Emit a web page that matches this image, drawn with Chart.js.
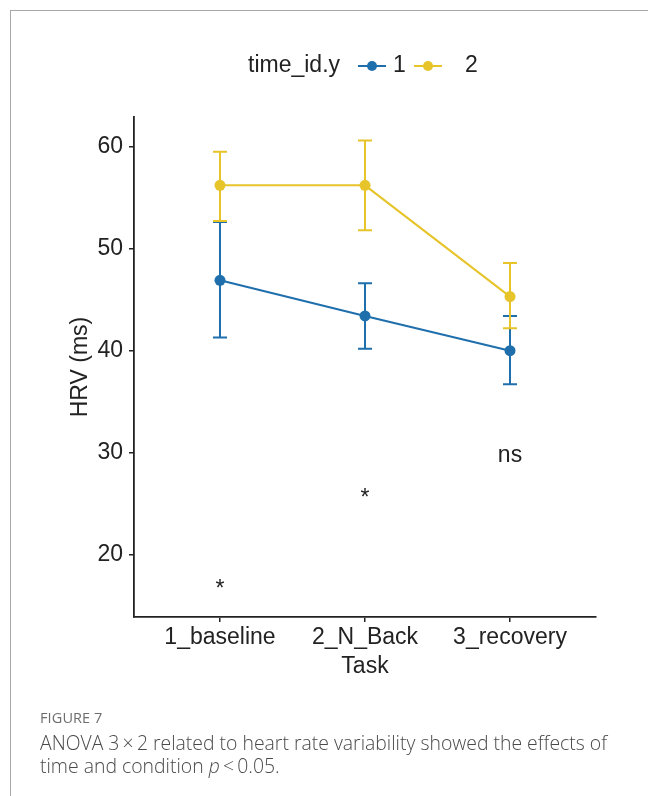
<!DOCTYPE html>
<html>
<head>
<meta charset="utf-8">
<script src="https://cdn.jsdelivr.net/npm/chart.js@4.4.1/dist/chart.umd.min.js"></script>
<style>
  html, body { margin: 0; padding: 0; background: #ffffff; }
  body { width: 648px; height: 796px; position: relative; overflow: hidden; }
  #frame { position: absolute; left: 10px; top: 10px; width: 660px; height: 800px;
           border-top: 1px solid #a8a8a8; border-left: 1px solid #a8a8a8; pointer-events: none; }
  #wrap { position: absolute; left: 0; top: 0; width: 648px; height: 700px; }
  #cap { position: absolute; left: 40px; top: 707px; width: 608px;
         font-family: "Open Sans", "Noto Sans", sans-serif; color: #5a5a5a; white-space: nowrap; }
  #cap .fig { font-size: 14.5px; color: #6e6e6e; letter-spacing: 0.1px; line-height: 22px; }
  #cap .txt { font-size: 19.4px; line-height: 23px; font-weight: 300; color: #4a4a4a; margin-top: 2px; }
</style>
</head>
<body>
<div id="wrap"><canvas id="c" width="648" height="700"></canvas></div>
<div id="frame"></div>
<div id="cap">
  <div class="fig">FIGURE 7</div>
  <div class="txt">ANOVA 3&#8201;×&#8201;2 related to heart rate variability showed the effects of<br>time and condition <i>p</i>&#8201;&lt;&#8201;0.05.</div>
</div>
<script>
// ---- data ----
const categories = ["1_baseline", "2_N_Back", "3_recovery"];
const seriesNames = ["1", "2"];
const hrv1 = [46.9, 43.4, 40.0];
const hrv1Low = [41.3, 40.2, 36.7];
const hrv1High = [52.6, 46.6, 43.4];
const hrv2 = [56.2, 56.2, 45.3];
const hrv2Low = [52.7, 51.8, 42.2];
const hrv2High = [59.5, 60.6, 48.6];
const yTicks = [20, 30, 40, 50, 60];
const sigLabels = ["*", "*", "ns"];
const sigY = [16.0, 24.9, 29.1];
const legendTitle = "time_id.y";
const xTitle = "Task";
const yTitle = "HRV (ms)";

const BLUE = "#1f6fad";
const YELLOW = "#e6c42a";
const FONT = "'Liberation Sans', Arial, sans-serif";
const TXT = "#222222";

const toPts = arr => arr.map((v, i) => ({ x: i, y: v }));

const errorBars = {
  id: "errorBars",
  beforeDatasetsDraw(chart) {
    const { ctx, scales: { x, y } } = chart;
    chart.data.datasets.forEach(ds => {
      ctx.save();
      ctx.strokeStyle = ds.borderColor;
      ctx.lineWidth = 2;
      ds.data.forEach((p, j) => {
        const px = x.getPixelForValue(p.x);
        const yl = y.getPixelForValue(ds.errLow[j]);
        const yh = y.getPixelForValue(ds.errHigh[j]);
        ctx.beginPath();
        ctx.moveTo(px, yl); ctx.lineTo(px, yh);
        ctx.moveTo(px - 7, yl); ctx.lineTo(px + 7, yl);
        ctx.moveTo(px - 7, yh); ctx.lineTo(px + 7, yh);
        ctx.stroke();
      });
      ctx.restore();
    });
  }
};

const sigText = {
  id: "sigText",
  afterDatasetsDraw(chart) {
    const { ctx, scales: { x, y } } = chart;
    ctx.save();
    ctx.fillStyle = TXT;
    ctx.font = "23px " + FONT;
    ctx.textAlign = "center";
    ctx.textBaseline = "alphabetic";
    sigLabels.forEach((t, i) => {
      ctx.fillText(t, x.getPixelForValue(i), y.getPixelForValue(sigY[i]));
    });
    ctx.restore();
  }
};

const topLegend = {
  id: "topLegend",
  afterDraw(chart) {
    const { ctx } = chart;
    const cy = 66;
    ctx.save();
    ctx.font = "23px " + FONT;
    ctx.fillStyle = TXT;
    ctx.textBaseline = "middle";
    ctx.textAlign = "left";
    ctx.fillText(legendTitle, 248, cy);
    const items = [{ x0: 358, tx: 393 }, { x0: 414, tx: 465 }];
    chart.data.datasets.forEach((ds, i) => {
      const it = items[i];
      ctx.strokeStyle = ds.borderColor;
      ctx.lineWidth = 2;
      ctx.beginPath(); ctx.moveTo(it.x0, cy); ctx.lineTo(it.x0 + 28, cy); ctx.stroke();
      ctx.fillStyle = ds.backgroundColor;
      ctx.beginPath(); ctx.arc(it.x0 + 14, cy, 5, 0, Math.PI * 2); ctx.fill();
      ctx.fillStyle = TXT;
      ctx.fillText(ds.label, it.tx, cy);
    });
    ctx.restore();
  }
};

new Chart(document.getElementById("c"), {
  type: "line",
  data: {
    datasets: [
      { label: seriesNames[0], data: toPts(hrv1), errLow: hrv1Low, errHigh: hrv1High,
        borderColor: BLUE, backgroundColor: BLUE, borderWidth: 2, pointRadius: 5.5,
        pointBorderWidth: 0, tension: 0 },
      { label: seriesNames[1], data: toPts(hrv2), errLow: hrv2Low, errHigh: hrv2High,
        borderColor: YELLOW, backgroundColor: YELLOW, borderWidth: 2, pointRadius: 5.5,
        pointBorderWidth: 0, tension: 0 }
    ]
  },
  options: {
    responsive: false,
    animation: false,
    layout: { padding: { left: 0, top: 117, right: 52, bottom: 0 } },
    plugins: { legend: { display: false }, tooltip: { enabled: false } },
    scales: {
      x: {
        type: "linear", min: -0.593, max: 2.593,
        afterBuildTicks: s => { s.ticks = categories.map((c, i) => ({ value: i })); },
        afterFit: s => { s.height = 83; },
        ticks: { callback: v => categories[v], color: TXT, font: { family: FONT, size: 23 }, padding: 2, maxRotation: 0, autoSkip: false },
        grid: { display: true, drawOnChartArea: false, drawTicks: true, tickLength: 5, color: "#222", lineWidth: 1.5 },
        border: { display: true, color: "#222", width: 1.8 },
        title: { display: true, text: xTitle, color: TXT, font: { family: FONT, size: 23 }, padding: { top: 0, bottom: 20 } }
      },
      y: {
        type: "linear", min: 13.9, max: 62.9,
        afterBuildTicks: s => { s.ticks = yTicks.map(v => ({ value: v })); },
        afterFit: s => { s.width = 134; },
        ticks: { color: TXT, font: { family: FONT, size: 23 }, padding: 6 },
        grid: { display: true, drawOnChartArea: false, drawTicks: true, tickLength: 5, color: "#222", lineWidth: 1.5 },
        border: { display: true, color: "#222", width: 1.8 },
        title: { display: true, text: yTitle, color: TXT, font: { family: FONT, size: 23 }, padding: { top: 67, bottom: 0 } }
      }
    }
  },
  plugins: [errorBars, sigText, topLegend]
});
</script>
</body>
</html>
